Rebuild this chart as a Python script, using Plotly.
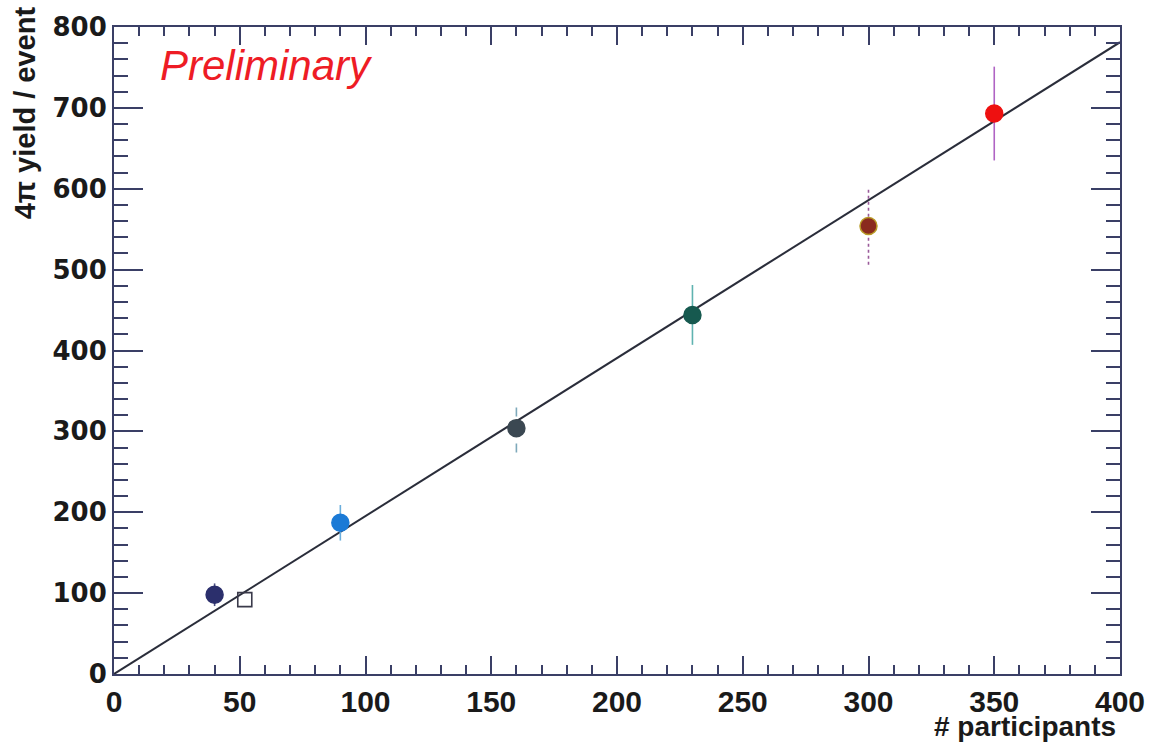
import plotly.graph_objects as go

# Measured yields per centrality class
participants = [40, 90, 160, 230, 300, 350]
yield_per_event = [98, 187, 304, 444, 554, 693]
yield_err = [14, 22, 30, 37, 48, 58]

# Reference point drawn as an open square
ref_participants = [52]
ref_yield = [92]

# Linear fit through the origin
fit_x = [0, 400]
fit_slope = 1.953

# Axis ticks
x_ticks = [0, 50, 100, 150, 200, 250, 300, 350, 400]
y_ticks = [0, 100, 200, 300, 400, 500, 600, 700, 800]

# Marker / error bar styling per point
marker_fill = ["#2b2f6c", "#1b7ad6", "#3b4852", "#16594f", "#8a2b1e", "#ee1010"]
marker_edge = ["#2b2f6c", "#1b7ad6", "#3b4852", "#16594f", "#b89a25", "#ee1010"]
err_color = ["#4a4f80", "#6aaedc", "#7ea9bb", "#5fb3b0", "#9a5a9a", "#b064c4"]
err_dash = ["solid", "solid", "dash", "solid", "dot", "solid"]

AXIS = "#3a3f66"
BOLD = dict(family="Liberation Sans", weight="bold", color="#1a1a1a")
BOLD_WIDE = dict(family="DejaVu Sans", weight="bold", color="#1a1a1a")

fig = go.Figure()

# fit line
fig.add_trace(go.Scatter(
    x=fit_x, y=[fit_slope * v for v in fit_x], mode="lines",
    line=dict(color="#2a2d3a", width=2), hoverinfo="skip", showlegend=False,
))

# vertical error bars
for x, y, e, c, d in zip(participants, yield_per_event, yield_err, err_color, err_dash):
    fig.add_trace(go.Scatter(
        x=[x, x], y=[y - e, y + e], mode="lines",
        line=dict(color=c, width=1.6, dash=d), hoverinfo="skip", showlegend=False,
    ))

# filled circles
fig.add_trace(go.Scatter(
    x=participants, y=yield_per_event, mode="markers",
    marker=dict(symbol="circle", size=17, color=marker_fill,
                line=dict(color=marker_edge, width=1.5)),
    showlegend=False,
))

# open square
fig.add_trace(go.Scatter(
    x=ref_participants, y=ref_yield, mode="markers",
    marker=dict(symbol="square-open", size=14, color="#3a3a4a", line=dict(width=1.6)),
    showlegend=False,
))

fig.update_layout(
    width=1157, height=746,
    margin=dict(l=114, r=35, t=23, b=72),
    paper_bgcolor="white", plot_bgcolor="white",
    showlegend=False,
    xaxis=dict(
        range=[0, 400], tickvals=x_ticks, ticktext=[str(v) for v in x_ticks],
        ticks="inside", ticklen=18, tickwidth=1.5, tickcolor=AXIS,
        minor=dict(dtick=10, ticks="inside", ticklen=9, tickwidth=1.5, tickcolor=AXIS),
        showline=True, linecolor=AXIS, linewidth=2, mirror="ticks",
        showgrid=False, zeroline=False,
        tickfont=dict(size=30, **BOLD), ticklabelstandoff=0,
    ),
    yaxis=dict(
        range=[0, 800], tickvals=y_ticks, ticktext=[str(v) for v in y_ticks],
        ticks="inside", ticklen=29, tickwidth=1.5, tickcolor=AXIS,
        minor=dict(dtick=20, ticks="inside", ticklen=14, tickwidth=1.5, tickcolor=AXIS),
        showline=True, linecolor=AXIS, linewidth=2, mirror="ticks",
        showgrid=False, zeroline=False,
        tickfont=dict(size=26, **BOLD_WIDE), ticklabelstandoff=0,
    ),
    annotations=[
        dict(text="Preliminary", xref="paper", yref="paper", x=0.044, y=0.98,
             xanchor="left", yanchor="top", showarrow=False,
             font=dict(family="Liberation Sans", size=42, color="#ee1c25", style="italic")),
        dict(text="4π yield / event", xref="paper", yref="paper", x=-0.089, y=1.035,
             xanchor="center", yanchor="top", showarrow=False, textangle=-90,
             font=dict(size=29, **BOLD)),
        dict(text="# participants", xref="paper", yref="paper", x=0.998, y=-0.108,
             xanchor="right", yanchor="bottom", showarrow=False,
             font=dict(size=28, **BOLD)),
    ],
)

fig.write_html("out.html")
